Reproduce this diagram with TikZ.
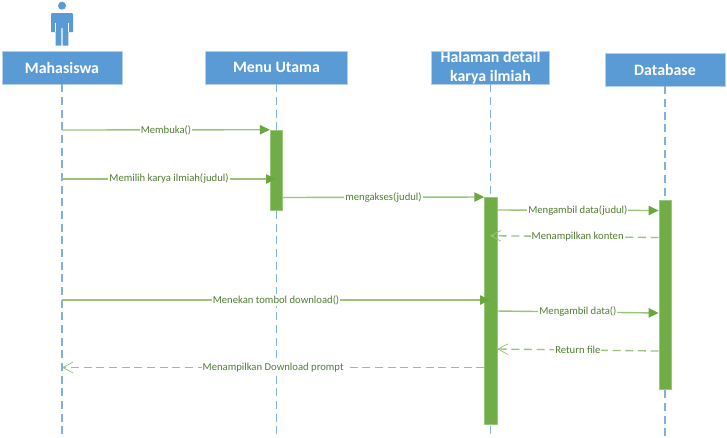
\documentclass[tikz,border=0pt]{standalone}
\usepackage{fontspec}
\setmainfont{Carlito}
\usetikzlibrary{arrows.meta}
\definecolor{boxblue}{HTML}{5B9BD5}
\definecolor{boxedge}{HTML}{B4D0EC}
\definecolor{actgreen}{HTML}{70AD47}
\definecolor{msggreen}{HTML}{98C57A}
\definecolor{headgreen}{HTML}{6AA83F}
\definecolor{txtgreen}{HTML}{4F7F30}
\definecolor{lifeblue}{HTML}{7FB0DE}
\tikzset{
  x=0.75pt,y=-0.75pt,
  head/.style={draw=boxedge,line width=0.6pt,fill=boxblue,text=white,inner sep=0pt,align=center,
    font=\fontsize{11.9}{14.25}\selectfont\bfseries,minimum height=24.75pt},
  life/.style={draw=lifeblue,line width=0.9pt,dash pattern=on 6pt off 3.5pt},
  activation/.style={draw=actgreen!70!white,line width=0.4pt,fill=actgreen,inner sep=0pt,minimum width=9.2pt},
  msg/.style={draw=msggreen,line width=1.05pt,-{Triangle[length=7.5pt,width=7pt,fill=headgreen,color=headgreen]}},
  ret/.style={draw=msggreen,line width=1pt,dash pattern=on 6pt off 3.5pt,-{Straight Barb[length=7.5pt,width=8pt,color=msggreen,line width=0.6pt]}},
  lab/.style={fill=white,inner sep=0.7pt,text=txtgreen,font=\fontsize{8}{9}\selectfont},
}
\begin{document}
\begin{tikzpicture}
\useasboundingbox (0,0) rectangle (727,437);
% actor
\fill[boxblue] (62,5.7) circle[radius=4];
\fill[boxblue] (52,13) -- (72,13) -- (73,14) -- (73,32) -- (68.4,32) -- (68.4,45.7) -- (62.6,45.7) -- (62.6,28) -- (61.4,28) -- (61.4,45.7) -- (55.6,45.7) -- (55.6,32) -- (51,32) -- (51,14) -- cycle;
\draw[white,line width=0.5pt] (55.6,23) -- (55.6,32) (68.4,23) -- (68.4,32);
% heads
\node[head,minimum width=90pt] (mhs) at (62,67.5) {Mahasiswa};
\node[head,minimum width=107pt] (menu) at (276.5,67.5) {Menu Utama};
\node[head,minimum width=89pt] (hal) at (490.5,67.5) {Halaman detail\\karya ilmiah};
\node[head,minimum width=90pt] (db) at (665,69.5) {Database};
% lifeline ends
\coordinate (mhsEnd) at (62,434);
\coordinate (menuEnd) at (276.5,434);
\coordinate (halEnd) at (490.5,434);
\coordinate (dbEnd) at (665,436);
\draw[life] (mhs.south) -- (mhsEnd);
\draw[life] (menu.south) -- (menuEnd);
\draw[life] (hal.south) -- (halEnd);
\draw[life] (db.south) -- (dbEnd);
% activations
\node[activation,minimum height=60pt] (a1) at (276.3,170) {};
\node[activation,minimum height=170.6pt] (a2) at (490.7,311) {};
\node[activation,minimum height=142pt] (a3) at (665,294.5) {};
% message end points
\coordinate (m1s) at (62,130);   \coordinate (m1e) at (a1.north west);
\coordinate (m2s) at (62,179);   \coordinate (m2e) at (276,179);
\coordinate (m3s) at (a1.east |- 0,197.5); \coordinate (m3e) at (a2.north west);
\coordinate (m4s) at (a2.east |- 0,210);   \coordinate (m4e) at (a3.west |- 0,210.5);
\coordinate (m5s) at (a3.west |- 0,237.5); \coordinate (m5e) at (490,235.7);
\coordinate (m6s) at (62,300);   \coordinate (m6e) at (490,300);
\coordinate (m7s) at (a2.east |- 0,311);   \coordinate (m7e) at (a3.west |- 0,313);
\coordinate (m8s) at (a3.west |- 0,351);   \coordinate (m8e) at (a2.east |- 0,349);
\coordinate (m9s) at (a2.west |- 0,367.5); \coordinate (m9e) at (62,367.5);
% messages
\draw[msg] (m1s) -- node[lab] {Membuka()} (m1e);
\draw[msg] (m2s) -- node[lab] {Memilih karya ilmiah(judul)} (m2e);
\draw[msg] (m3s) -- node[lab] {mengakses(judul)} (m3e);
\draw[msg] (m4s) -- node[lab] {Mengambil data(judul)} (m4e);
\draw[ret] (m5s) -- node[lab,pos=.48] {Menampilkan konten} (m5e);
\draw[msg] (m6s) -- node[lab] {Menekan tombol download()} (m6e);
\draw[msg] (m7s) -- node[lab] {Mengambil data()} (m7e);
\draw[ret] (m8s) -- node[lab] {Return file} (m8e);
\draw[ret] (m9s) -- node[lab] {Menampilkan Download prompt} (m9e);
\end{tikzpicture}
\end{document}
